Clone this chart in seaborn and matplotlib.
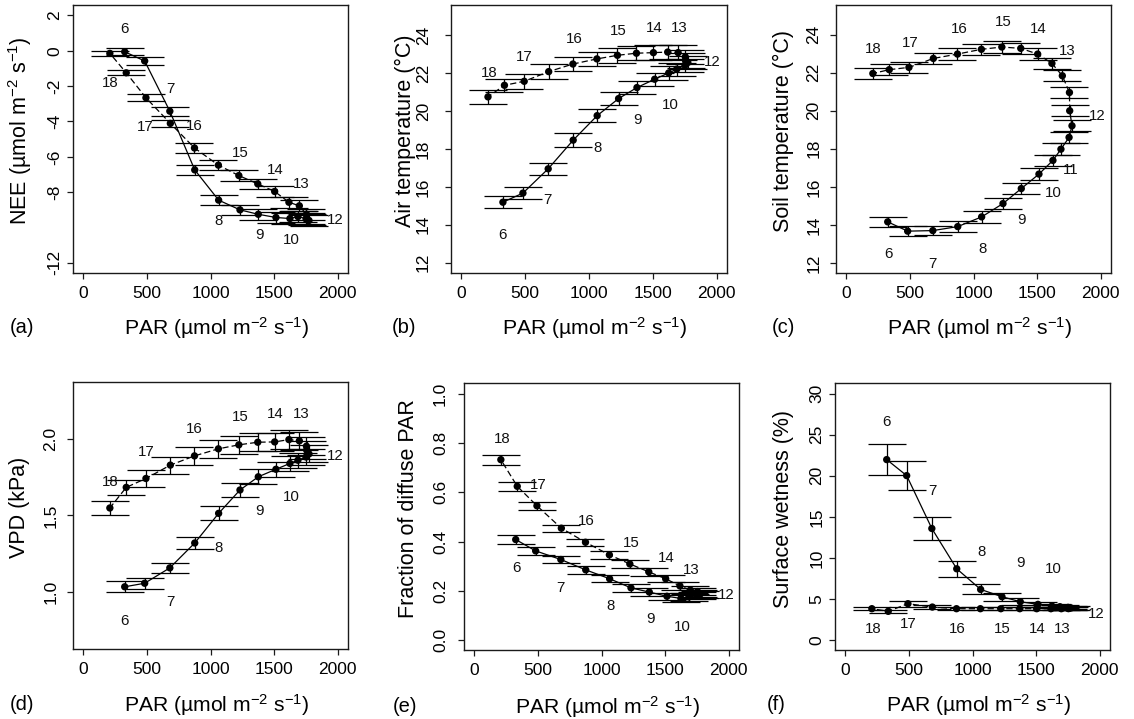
import numpy as np
import pandas as pd
import matplotlib
matplotlib.use("Agg")
import matplotlib.pyplot as plt
import seaborn as sns

# ---------------- data (half-hourly means, 6:00 ... 18:00) ----------------
times = ["6:00", "6:30", "7:00", "7:30", "8:00", "8:30", "9:00", "9:30", "10:00",
         "10:30", "11:00", "11:30", "12:00", "12:30", "13:00", "13:30", "14:00",
         "14:30", "15:00", "15:30", "16:00", "16:30", "17:00", "17:30", "18:00"]
par = [325, 482, 680, 876, 1064, 1232, 1376, 1515, 1625, 1688, 1752, 1775, 1757,
       1755, 1699, 1617, 1505, 1372, 1223, 1062, 874, 684, 492, 337, 208]

nee = [-0.06, -0.58, -3.42, -6.74, -8.45, -9.0, -9.25, -9.43, -9.49, -9.38, -9.5,
       -9.6, -9.55, -9.25, -8.77, -8.57, -7.96, -7.53, -7.06, -6.47, -5.5, -4.11,
       -2.66, -1.25, -0.15]
nee_err = [0.2, 0.25, 0.25, 0.3, 0.3, 0.3, 0.3, 0.3, 0.3, 0.3, 0.3, 0.3, 0.3, 0.3,
           0.3, 0.3, 0.3, 0.3, 0.3, 0.3, 0.3, 0.2, 0.2, 0.15, 0.15]

tair = [15.19, 15.67, 16.95, 18.46, 19.75, 20.65, 21.23, 21.67, 22.0, 22.2, 22.4,
        22.55, 22.65, 22.85, 23.07, 23.1, 23.07, 23.04, 22.93, 22.74, 22.47, 22.07,
        21.56, 21.35, 20.74]
tair_err = [0.33, 0.33, 0.33, 0.35, 0.35, 0.35, 0.35, 0.35, 0.35, 0.35, 0.35, 0.35,
            0.38, 0.38, 0.38, 0.38, 0.38, 0.38, 0.38, 0.38, 0.38, 0.38, 0.38, 0.35, 0.35]

tsoil = [14.16, 13.67, 13.70, 13.91, 14.42, 15.12, 15.91, 16.67, 17.39, 17.98, 18.6,
         19.21, 20.0, 20.96, 21.84, 22.49, 22.98, 23.28, 23.35, 23.23, 22.98, 22.75,
         22.28, 22.16, 21.96]
tsoil_err = [0.25, 0.25, 0.25, 0.3, 0.3, 0.3, 0.3, 0.3, 0.3, 0.3, 0.3, 0.3, 0.3, 0.3,
             0.3, 0.3, 0.3, 0.3, 0.3, 0.3, 0.3, 0.3, 0.3, 0.3, 0.3]

vpd = [1.035, 1.058, 1.158, 1.320, 1.513, 1.665, 1.751, 1.80, 1.838, 1.859, 1.88,
       1.90, 1.924, 1.95, 1.985, 1.993, 1.978, 1.976, 1.959, 1.933, 1.887, 1.827,
       1.740, 1.682, 1.548]
vpd_err = [0.035, 0.035, 0.035, 0.04, 0.045, 0.045, 0.05, 0.05, 0.05, 0.05, 0.055,
           0.055, 0.06, 0.06, 0.06, 0.06, 0.06, 0.06, 0.06, 0.06, 0.06, 0.055, 0.055,
           0.05, 0.045]

fdif = [0.408, 0.362, 0.327, 0.285, 0.249, 0.212, 0.195, 0.178, 0.169, 0.175, 0.18,
        0.186, 0.19, 0.197, 0.203, 0.220, 0.249, 0.277, 0.309, 0.346, 0.397, 0.454,
        0.545, 0.624, 0.732]
fdif_err = [0.017, 0.015, 0.015, 0.015, 0.015, 0.015, 0.015, 0.015, 0.015, 0.015,
            0.015, 0.015, 0.015, 0.015, 0.015, 0.015, 0.015, 0.015, 0.015, 0.015,
            0.015, 0.015, 0.017, 0.018, 0.02]

wet = [21.97, 20.02, 13.58, 8.67, 6.16, 5.27, 4.66, 4.34, 4.13, 4.05, 3.97, 3.9,
       3.85, 3.82, 3.81, 3.81, 3.81, 3.81, 3.81, 3.81, 3.81, 4.01, 4.42, 3.49, 3.81]
wet_err = [1.9, 1.8, 1.4, 1.0, 0.6, 0.5, 0.4, 0.3, 0.25, 0.2, 0.2, 0.2, 0.2, 0.2,
           0.2, 0.2, 0.2, 0.2, 0.2, 0.2, 0.2, 0.2, 0.35, 0.15, 0.2]

# hour annotations (label, PAR, value) for each panel
hour_labels = ["6", "7", "8", "9", "10", "12", "13", "14", "15", "16", "17", "18"]
lab_a = [(322, 1.23), (681, -2.17), (1062, -9.64), (1384, -10.43), (1633, -10.68),
         (1979, -9.58), (1714, -7.51), (1510, -6.72), (1232, -5.77), (870, -4.23),
         (490, -4.32), (210, -1.85)]
lab_b = [(322, 13.47), (678, 15.32), (1065, 18.07), (1382, 19.53), (1636, 20.32),
         (1969, 22.56), (1707, 24.35), (1510, 24.35), (1228, 24.21), (882, 23.77),
         (490, 22.82), (215, 22.02)]
lab_c = [(327, 12.46), (680, 11.96), (1072, 12.75), (1378, 14.25), (1629, 15.68),
         (1974, 19.74), (1739, 23.16), (1511, 24.28), (1234, 24.67), (884, 24.28),
         (499, 23.58), (214, 23.25)]
lab_c_extra = [("11", 1765, 16.88)]
lab_d = [(322, 0.810), (684, 0.933), (1062, 1.286), (1384, 1.528), (1633, 1.621),
         (1979, 1.887), (1714, 2.162), (1510, 2.158), (1232, 2.141), (873, 2.065),
         (498, 1.913), (210, 1.719)]
lab_e = [(327, 0.291), (678, 0.212), (1071, 0.138), (1387, 0.084), (1634, 0.054),
         (1982, 0.182), (1707, 0.286), (1513, 0.335), (1236, 0.395), (882, 0.482),
         (503, 0.628), (220, 0.814)]
lab_f = [(325, 26.55), (681, 18.16), (1068, 10.66), (1380, 9.32), (1634, 8.63),
         (1974, 3.16), (1702, 1.30), (1513, 1.30), (1236, 1.30), (877, 1.30),
         (495, 1.91), (215, 1.30)]

xlabel = "PAR (µmol m$^{-2}$ s$^{-1}$)"

# ---------------- style ----------------
sns.set_theme(style="ticks")
plt.rcParams.update({
    "font.family": ["Liberation Sans", "DejaVu Sans"],
    "mathtext.fontset": "custom",
    "mathtext.rm": "Liberation Sans",
    "mathtext.it": "Liberation Sans:italic",
    "mathtext.bf": "Liberation Sans:bold",
    "text.color": "black",
    "axes.labelcolor": "black",
    "axes.edgecolor": "#1a1a1a",
    "axes.linewidth": 1.0,
    "xtick.color": "#1a1a1a",
    "ytick.color": "#1a1a1a",
    "xtick.labelcolor": "black",
    "ytick.labelcolor": "black",
    "xtick.major.size": 4.5,
    "ytick.major.size": 4.5,
    "xtick.major.width": 0.9,
    "ytick.major.width": 0.9,
    "xtick.direction": "out",
    "ytick.direction": "out",
})

W, H = 1134, 719
fig = plt.figure(figsize=(W / 100, H / 100), dpi=100)


def ax_at(x0, y0, x1, y1):
    return fig.add_axes([x0 / W, 1 - y1 / H, (x1 - x0) / W, (y1 - y0) / H])


panels = [
    dict(box=(73, 5, 348, 273), y=nee, e=nee_err, ylim=(-12.57, 2.585),
         yt=[2, 0, -2, -4, -6, -8, -12], ytl=["2", "0", "-2", "-4", "-6", "-8", "-12"],
         ylabel="NEE (µmol m$^{-2}$ s$^{-1}$)", ylx=20, letter="(a)", lx=22, rowy=328,
         labs=lab_a, extra=[], pad=3),
    dict(box=(451, 5, 727, 273), y=tair, e=tair_err, ylim=(11.46, 25.58),
         yt=[12, 14, 16, 18, 20, 22, 24], ytl=None,
         ylabel="Air temperature (°C)", ylx=405, letter="(b)", lx=404, rowy=328,
         labs=lab_b, extra=[], pad=10),
    dict(box=(836, 5, 1111, 273), y=tsoil, e=tsoil_err, ylim=(11.47, 25.56),
         yt=[12, 14, 16, 18, 20, 22, 24], ytl=None,
         ylabel="Soil temperature (°C)", ylx=783, letter="(c)", lx=783, rowy=328,
         labs=lab_c, extra=lab_c_extra, pad=6),
    dict(box=(73, 382, 348, 649), y=vpd, e=vpd_err, ylim=(0.630, 2.368),
         yt=[1.0, 1.5, 2.0], ytl=["1.0", "1.5", "2.0"],
         ylabel="VPD (kPa)", ylx=20, letter="(d)", lx=22, rowy=705,
         labs=lab_d, extra=[], pad=6),
    dict(box=(464, 383, 739, 650), y=fdif, e=fdif_err, ylim=(-0.04, 1.043),
         yt=[0.0, 0.2, 0.4, 0.6, 0.8, 1.0], ytl=["0.0", "0.2", "0.4", "0.6", "0.8", "1.0"],
         ylabel="Fraction of diffuse PAR", ylx=408, letter="(e)", lx=405, rowy=707,
         labs=lab_e, extra=[], pad=7),
    dict(box=(835, 383, 1110, 650), y=wet, e=wet_err, ylim=(-1.22, 31.3),
         yt=[0, 5, 10, 15, 20, 25, 30], ytl=None,
         ylabel="Surface wetness (%)", ylx=783, letter="(f)", lx=776, rowy=705,
         labs=lab_f, extra=[], pad=3),
]

noon = times.index("12:00")

for p in panels:
    ax = ax_at(*p["box"])
    df = pd.DataFrame({"PAR": par, "val": p["y"], "err": p["e"], "time": times})
    am = df.iloc[: noon + 1].assign(period="am")
    pm = df.iloc[noon:].assign(period="pm")
    lines = pd.concat([am, pm], ignore_index=True)

    sns.lineplot(data=lines, x="PAR", y="val", style="period", units="period",
                 estimator=None, sort=False, color="black", linewidth=0.9,
                 dashes={"am": "", "pm": (5, 2.5)}, legend=False, ax=ax, zorder=2)
    ax.errorbar(df["PAR"], df["val"], yerr=df["err"], fmt="none", ecolor="black",
                elinewidth=0.9, capsize=13.5, capthick=0.9, zorder=3)
    sns.scatterplot(data=df, x="PAR", y="val", color="black", s=28,
                    edgecolor="none", legend=False, ax=ax, zorder=4)

    for lab, (lx_, ly_) in zip(hour_labels, p["labs"]):
        ax.text(lx_, ly_, lab, ha="center", va="center", fontsize=10.8, color="#111111")
    for lab, lx_, ly_ in p["extra"]:
        ax.text(lx_, ly_, lab, ha="center", va="center", fontsize=10.8, color="#111111")

    ax.set_xlim(-82, 2082)
    ax.set_ylim(*p["ylim"])
    ax.set_xticks([0, 500, 1000, 1500, 2000])
    ax.set_yticks(p["yt"])
    if p["ytl"] is not None:
        ax.set_yticklabels(p["ytl"])
    ax.tick_params(axis="x", labelsize=12.5, pad=5)
    ax.tick_params(axis="y", labelsize=12.5, pad=p["pad"])
    for t in ax.get_yticklabels():
        t.set_rotation(90)
        t.set_va("center")
    ax.set_xlabel("")
    ax.set_ylabel("")
    for s in ax.spines.values():
        s.set_visible(True)

    x0, y0, x1, y1 = p["box"]
    fig.text(((x0 + x1) / 2 + 6) / W, 1 - p["rowy"] / H, xlabel, ha="center",
             va="center", fontsize=15.2)
    fig.text(p["lx"] / W, 1 - p["rowy"] / H, p["letter"], ha="center", va="center",
             fontsize=14.5)
    fig.text(p["ylx"] / W, 1 - ((y0 + y1) / 2 - 8) / H, p["ylabel"], ha="center",
             va="center", rotation=90, fontsize=15.5)

fig.savefig("out.png", dpi=100, facecolor="white")
